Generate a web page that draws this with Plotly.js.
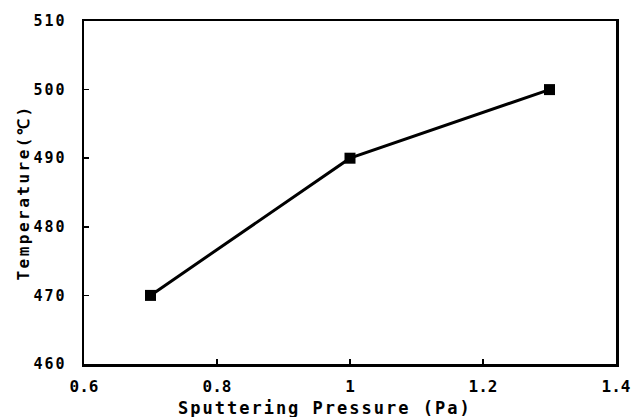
<!DOCTYPE html>
<html><head><meta charset="utf-8">
<script src="https://cdn.plot.ly/plotly-3.0.1.min.js"></script>
<style>
body{margin:0;background:#fff}#c{width:631px;height:417px}
.ytick text{letter-spacing:2px}
.annotation-text{letter-spacing:2px}
.ytitle{letter-spacing:2.5px}
</style>
</head><body><div id="c"></div>
<script>
const pressure = [0.7, 1.0, 1.3];
const temperature = [470, 490, 500];
const xTicks = [0.6, 0.8, 1, 1.2, 1.4];
const xTickText = ['0.6', '0.8', '1', '1.2', '1.4'];
const yTicks = [460, 470, 480, 490, 500, 510];
const xTitle = 'Sputtering Pressure (Pa)';
const yTitle = 'Temperature(℃)';

const fontFam = '"DejaVu Sans Mono", "Liberation Mono", monospace';
Plotly.newPlot('c', [{
  x: pressure, y: temperature, type: 'scatter', mode: 'lines+markers',
  line: {color: '#000', width: 3},
  marker: {symbol: 'square', size: 11, color: '#000'}
}], {
  width: 631, height: 417,
  margin: {l: 84, r: 15, t: 21, b: 53},
  paper_bgcolor: '#fff', plot_bgcolor: '#fff',
  showlegend: false,
  font: {family: fontFam, color: '#000', size: 15},
  xaxis: {
    range: [0.6, 1.4], tickvals: xTicks, ticktext: xTickText,
    ticks: 'inside', ticklen: 5, tickwidth: 1.5, tickcolor: '#000',
    showline: true, linewidth: 2.5, linecolor: '#000', mirror: true,
    showgrid: false, zeroline: false, ticklabeloverflow: 'allow',
    tickfont: {family: fontFam, size: 16, weight: 'bold'},
    ticklabelstandoff: 6
  },
  yaxis: {
    range: [460, 510], tickvals: yTicks,
    ticks: 'inside', ticklen: 5, tickwidth: 1.5, tickcolor: '#000',
    showline: true, linewidth: 2.5, linecolor: '#000', mirror: true,
    showgrid: false, zeroline: false, ticklabeloverflow: 'allow',
    tickfont: {family: fontFam, size: 15, weight: 'bold'},
    ticklabelstandoff: 12,
    title: {text: yTitle, font: {family: fontFam, size: 16, weight: 'bold'}, standoff: 0}
  },
  annotations: [{
    text: xTitle, xref: 'paper', yref: 'paper', x: 0.453, y: -0.128,
    xanchor: 'center', yanchor: 'middle', showarrow: false,
    font: {family: fontFam, size: 17, weight: 'bold', color: '#000'}
  }]
}, {displayModeBar: false, staticPlot: true});
</script></body></html>
